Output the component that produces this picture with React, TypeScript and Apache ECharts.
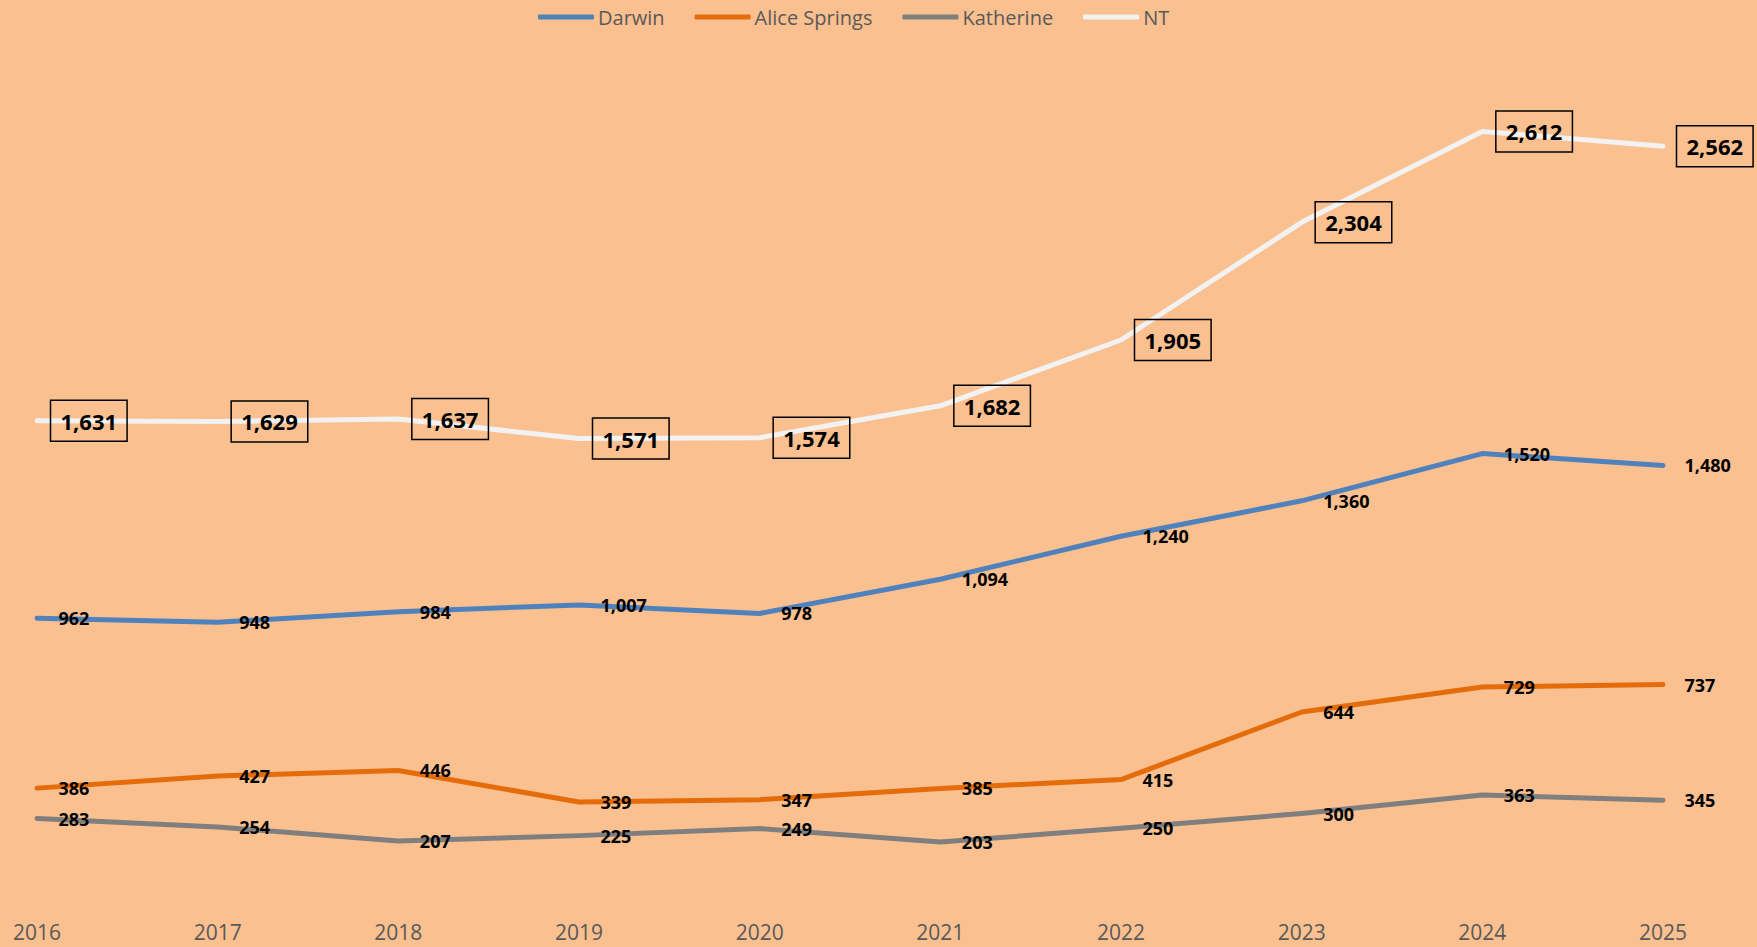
import React, { useEffect, useRef } from "react";
import * as echarts from "echarts";

const years = ["2016", "2017", "2018", "2019", "2020", "2021", "2022", "2023", "2024", "2025"];
const darwin = [962, 948, 984, 1007, 978, 1094, 1240, 1360, 1520, 1480];
const aliceSprings = [386, 427, 446, 339, 347, 385, 415, 644, 729, 737];
const katherine = [283, 254, 207, 225, 249, 203, 250, 300, 363, 345];
const nt = [1631, 1629, 1637, 1571, 1574, 1682, 1905, 2304, 2612, 2562];

const FONT = "'Open Sans', sans-serif";
const fmt = (v: number) => v.toLocaleString("en-US");

function smallSeries(name: string, data: number[], color: string) {
  return {
    name,
    type: "line",
    data,
    symbol: "circle",
    symbolSize: 1,
    itemStyle: { color },
    lineStyle: { color, width: 5, cap: "round", join: "round" },
    label: {
      show: true,
      position: "right",
      distance: 21,
      color: "#000",
      fontFamily: FONT,
      fontWeight: "bold",
      fontSize: 18,
      formatter: (p: any) => fmt(p.value),
    },
  };
}

export default function App() {
  const ref = useRef<HTMLDivElement>(null);
  useEffect(() => {
    if (!ref.current) return;
    const chart = echarts.init(ref.current, undefined, { renderer: "svg" });
    chart.setOption({
      animation: false,
      backgroundColor: "#FAC090",
      textStyle: { fontFamily: FONT },
      legend: {
        left: 533,
        top: 2,
        icon: "roundRect",
        itemWidth: 56,
        itemHeight: 5,
        itemGap: 30,
        textStyle: { color: "#595959", fontSize: 20, fontFamily: FONT, padding: [0, 0, 0, -1] },
        data: ["Darwin", "Alice Springs", "Katherine", "NT"],
      },
      grid: { left: 37, right: 94, top: 17, bottom: 45 },
      xAxis: {
        type: "category",
        data: years,
        boundaryGap: false,
        axisLine: { show: false },
        axisTick: { show: false },
        axisLabel: { color: "#595959", fontSize: 21, fontFamily: FONT, margin: 19 },
      },
      yAxis: {
        type: "value",
        min: 0,
        max: 3000,
        show: false,
        splitLine: { show: false },
      },
      series: [
        smallSeries("Darwin", darwin, "#4F81BD"),
        smallSeries("Alice Springs", aliceSprings, "#E46C0A"),
        smallSeries("Katherine", katherine, "#7F7F7F"),
        {
          name: "NT",
          type: "line",
          data: nt,
          symbol: "circle",
          symbolSize: 1,
          itemStyle: { color: "#F2F2F2" },
          lineStyle: { color: "#F2F2F2", width: 5, cap: "round", join: "round" },
          label: {
            show: true,
            position: "right",
            distance: 13,
            color: "#000",
            fontFamily: FONT,
            fontWeight: "bold",
            fontSize: 22,
            lineHeight: 27,
            padding: [7, 10, 7, 10],
            borderColor: "#000",
            borderWidth: 1.5,
            formatter: (p: any) => fmt(p.value),
          },
        },
      ],
    });
    return () => chart.dispose();
  }, []);
  return (
    <div
      ref={ref}
      style={{ position: "absolute", left: 0, top: 0, width: 1757, height: 947 }}
    />
  );
}
